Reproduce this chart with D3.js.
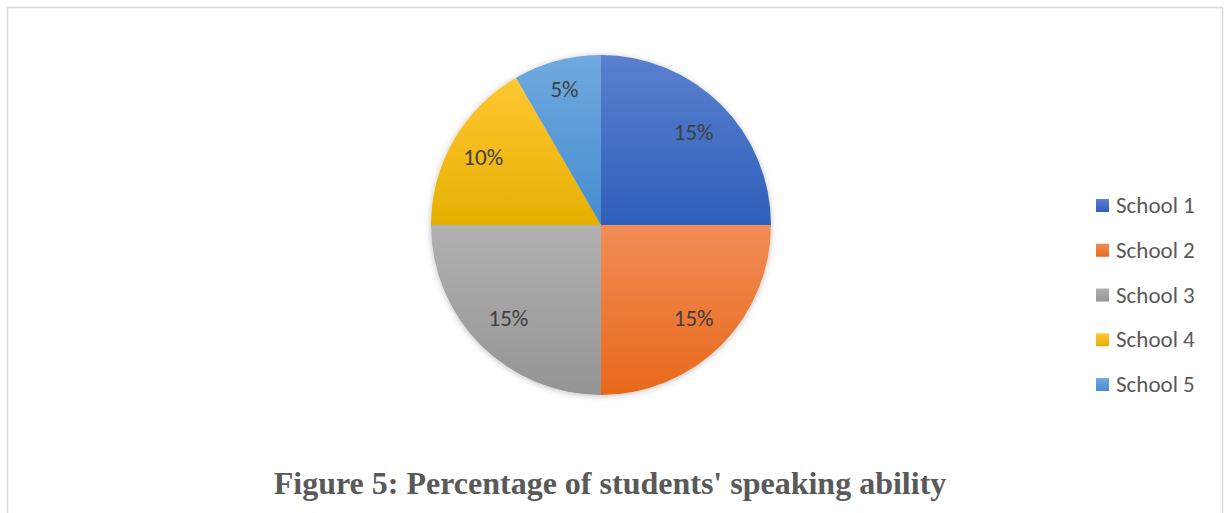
<!DOCTYPE html>
<html>
<head>
<meta charset="utf-8">
<script src="https://cdn.jsdelivr.net/npm/d3@7"></script>
<style>
  html, body { margin: 0; padding: 0; background: #ffffff; }
  svg { display: block; }
</style>
</head>
<body>
<svg id="chart" width="1226" height="513"></svg>
<script>
// Share of students' speaking ability by school (percent)
const schools = ["School 1", "School 2", "School 3", "School 4", "School 5"];
const shares = [15, 15, 15, 10, 5];
// Slice fills: lighter tone at the top, deeper tone at the bottom
const topTones = ["#5b80cf", "#f18d55", "#b1b1b1", "#ffc733", "#70a9df"];
const bottomTones = ["#2e5fba", "#e8681b", "#949494", "#e6b000", "#458ccf"];
const title = "Figure 5: Percentage of students' speaking ability";

const svg = d3.select("#chart");

// Frame (top, left and right edges)
svg.append("path")
  .attr("d", `M7.5,513 L7.5,7.5 L1222.5,7.5 L1222.5,513`)
  .attr("fill", "none")
  .attr("stroke", "#d9d9d9")
  .attr("stroke-width", 1.5);

const defs = svg.append("defs");

// Soft shadow around the pie
const shadow = defs.append("filter").attr("id", "pieShadow")
  .attr("x", "-10%").attr("y", "-10%").attr("width", "120%").attr("height", "120%");
shadow.append("feDropShadow")
  .attr("dx", 0).attr("dy", 1).attr("stdDeviation", 3)
  .attr("flood-color", "#000").attr("flood-opacity", 0.25);

schools.forEach((s, i) => {
  const g = defs.append("linearGradient")
    .attr("id", "grad" + i)
    .attr("x1", 0).attr("y1", 0).attr("x2", 0).attr("y2", 1);
  g.append("stop").attr("offset", "0%").attr("stop-color", topTones[i]);
  g.append("stop").attr("offset", "100%").attr("stop-color", bottomTones[i]);
});

const cx = 601, cy = 225, r = 170;
const pie = d3.pie().sort(null).value(d => d.value);
const arcs = pie(schools.map((s, i) => ({ name: s, value: shares[i], idx: i })));
const arc = d3.arc().innerRadius(0).outerRadius(r);

// Narrower slices push their labels a little further out
const labelRadius = d3.scaleLinear().domain([Math.PI / 6, Math.PI / 2]).range([141, 131]);
const labelPos = d => {
  const rr = labelRadius(d.endAngle - d.startAngle);
  return d3.arc().innerRadius(rr).outerRadius(rr).centroid(d);
};

const g = svg.append("g").attr("transform", `translate(${cx},${cy})`);
g.append("g").attr("filter", "url(#pieShadow)")
  .selectAll("path")
  .data(arcs)
  .join("path")
  .attr("d", arc)
  .attr("fill", d => `url(#grad${d.data.idx})`);

g.selectAll("text")
  .data(arcs)
  .join("text")
  .attr("transform", d => `translate(${labelPos(d)})`)
  .attr("text-anchor", "middle")
  .attr("dominant-baseline", "central")
  .attr("font-family", "Carlito, Calibri, 'Open Sans', sans-serif")
  .attr("font-size", 23)
  .attr("fill", "#404040")
  .text(d => d.data.value + "%");

// Legend
const legendY = d3.scalePoint().domain(schools).range([205, 384]);
const item = svg.append("g").selectAll("g")
  .data(schools)
  .join("g")
  .attr("transform", d => `translate(1096,${legendY(d)})`);
item.append("rect")
  .attr("x", 0).attr("y", -6).attr("width", 13).attr("height", 13)
  .attr("fill", (d, i) => `url(#grad${i})`);
item.append("text")
  .attr("x", 20).attr("y", 0)
  .attr("dominant-baseline", "central")
  .attr("font-family", "Carlito, Calibri, 'Open Sans', sans-serif")
  .attr("font-size", 23)
  .attr("fill", "#595959")
  .text(d => d);

// Caption
svg.append("text")
  .attr("x", 610).attr("y", 494)
  .attr("text-anchor", "middle")
  .attr("font-family", "'Liberation Serif', 'Times New Roman', serif")
  .attr("font-weight", "bold")
  .attr("font-size", 32)
  .attr("fill", "#595959")
  .text(title);
</script>
</body>
</html>
